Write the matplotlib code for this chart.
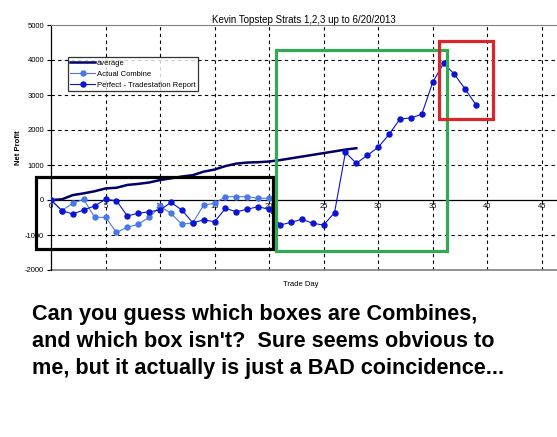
import matplotlib.pyplot as plt
from matplotlib.patches import Rectangle

plt.rcParams['font.family'] = ['Liberation Sans', 'DejaVu Sans']
plt.rcParams['axes.unicode_minus'] = False

# data
avg_day = list(range(0, 29))
avg_val = [0, 20, 140, 190, 250, 330, 350, 430, 460, 500, 570, 620, 670, 710, 810,
           870, 970, 1040, 1070, 1080, 1100, 1140, 1190, 1240, 1290, 1340, 1390, 1440, 1480]

combine_day = list(range(0, 21))
combine_val = [0, -300, -95, 20, -495, -495, -925, -780, -695, -495, -180, -380, -695,
               -650, -145, -95, 95, 95, 95, 50, 50]

perfect_day = list(range(0, 40))
perfect_val = [0, -305, -400, -285, -170, 20, -20, -455, -380, -335, -285, -70, -285,
               -650, -570, -620, -240, -335, -265, -190, -270, -715, -640, -550, -665,
               -715, -360, 1360, 1050, 1275, 1505, 1875, 2315, 2345, 2450, 3360, 3905,
               3590, 3160, 2705]

# highlight boxes: (x0, x1, y0, y1) in data units, colour
boxes = [(-1.4, 20.4, -1400, 670, 'black'),
         (20.65, 36.3, -1460, 4290, '#34a853'),
         (35.6, 40.5, 2310, 4540, '#d9262b')]

fig = plt.figure(figsize=(5.57, 4.37), dpi=100)
ax = fig.add_axes([51 / 557, 1 - 270 / 437, 1 - 51 / 557, 245 / 437])

ax.set_xlim(0, 46.4)
ax.set_ylim(-2000, 5000)

for x in range(5, 50, 5):
    ax.axvline(x, color='black', lw=0.8, ls=(0, (3, 3)), zorder=1)
for y in [-1000, 1000, 2000, 3000, 4000]:
    ax.axhline(y, color='black', lw=0.8, ls=(0, (3, 3)), zorder=1)

ax.plot(avg_day, avg_val, color='#000066', lw=1.8, label='average', zorder=3)
ax.plot(combine_day, combine_val, color='#4a78e6', lw=0.8, marker='o', ms=3.6,
        label='Actual Combine', zorder=4)
ax.plot(perfect_day, perfect_val, color='#0a14d2', lw=0.8, marker='o', ms=3.6,
        label='Perfect - Tradestation Report', zorder=5)

for x0, x1, y0, y1, c in boxes:
    ax.add_patch(Rectangle((x0, y0), x1 - x0, y1 - y0, fill=False, ec=c, lw=2.3,
                           clip_on=False, zorder=6))

ax.spines['bottom'].set_position(('data', 0))
ax.spines['bottom'].set_color('black')
ax.spines['bottom'].set_linewidth(0.9)
ax.spines['right'].set_visible(False)
ax.spines['top'].set_color('#808080')
ax.spines['left'].set_linewidth(0.9)
ax.axhline(-2000, color='#808080', lw=1.2, clip_on=False, zorder=2)

ax.set_xticks(range(0, 50, 5))
ax.set_yticks(range(-2000, 6000, 1000))
ax.tick_params(axis='x', length=0, pad=2, labelsize=5.5)
ax.tick_params(axis='y', length=3, direction='out', labelsize=5.5, pad=2)

ax.set_title('Kevin Topstep Strats 1,2,3 up to 6/20/2013', fontsize=7, pad=1)
ax.set_ylabel('Net Profit', fontsize=5.5, fontweight='bold', labelpad=2)
fig.text(301 / 557, 1 - 284 / 437, 'Trade Day', fontsize=5.5, ha='center', va='center')

leg = ax.legend(loc='upper left', bbox_to_anchor=(68 / 557, 1 - 57 / 437),
                bbox_transform=fig.transFigure, fontsize=5.5, frameon=True,
                fancybox=False, edgecolor='black', borderpad=0.3, labelspacing=0.5,
                handlelength=3.2, handletextpad=0.3, borderaxespad=0)
leg.get_frame().set_linewidth(0.9)

lines = ["Can you guess which boxes are Combines,",
         "and which box isn't?  Sure seems obvious to",
         "me, but it actually is just a BAD coincidence..."]
for i, t in enumerate(lines):
    fig.text(32 / 557, 1 - (320 + 27 * i) / 437, t, fontsize=15.6, fontweight='bold',
             va='baseline', ha='left')

fig.savefig('out.png', dpi=100)
